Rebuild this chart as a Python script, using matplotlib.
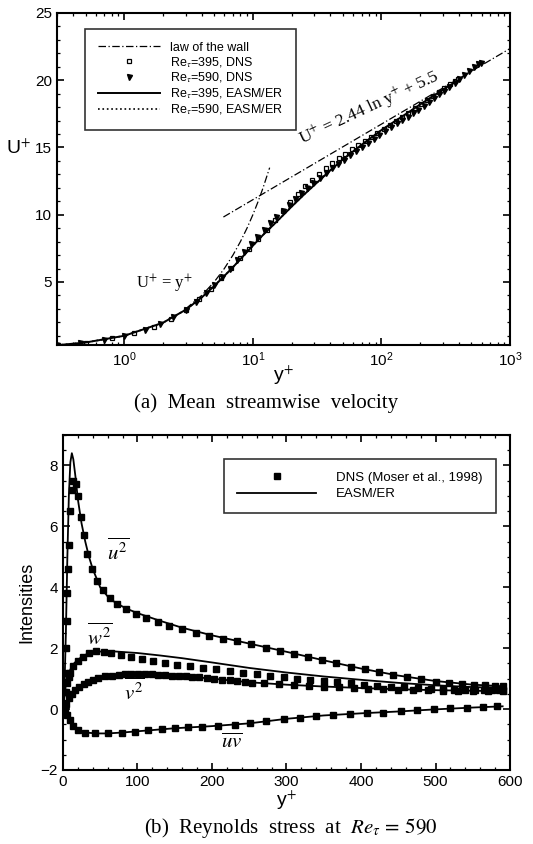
import numpy as np
import matplotlib.pyplot as plt
from matplotlib.ticker import MultipleLocator, LogLocator, NullFormatter

plt.rcParams['font.family'] = ['Liberation Sans', 'DejaVu Sans']
plt.rcParams['mathtext.fontset'] = 'stix'

# ---------------- (a) mean velocity data ----------------
yp590 = [0.3, 0.45, 0.7, 1.0, 1.45, 1.9, 2.4, 3.0, 3.6, 4.3, 5.0, 5.8, 6.6, 7.5, 8.5, 9.6,
         10.8, 12.1, 13.6, 15.2, 17, 19, 21.3, 23.8, 26.5, 29.5, 33, 37, 41, 46, 51, 57, 63,
         70, 78, 87, 96, 107, 118, 131, 145, 160, 176, 194, 213, 234, 257, 282, 309, 338,
         370, 404, 441, 480, 520, 560, 590]
up590 = [0.3, 0.45, 0.7, 1.0, 1.44, 1.88, 2.37, 2.95, 3.52, 4.15, 4.76, 5.4, 6.0, 6.6, 7.2, 7.8,
         8.35, 8.85, 9.35, 9.85, 10.3, 10.75, 11.2, 11.6, 12.0, 12.35, 12.75, 13.1, 13.45, 13.8,
         14.1, 14.45, 14.75, 15.05, 15.35, 15.65, 15.95, 16.25, 16.5, 16.8, 17.05, 17.3, 17.55,
         17.8, 18.1, 18.4, 18.65, 18.95, 19.2, 19.5, 19.8, 20.1, 20.4, 20.7, 21.0, 21.2, 21.3]
yp395 = [0.3, 0.5, 0.8, 1.2, 1.7, 2.3, 3.0, 3.8, 4.7, 5.7, 6.8, 8.0, 9.4, 11, 12.8, 14.8,
         17, 19.5, 22.3, 25.4, 28.8, 32.6, 36.8, 41.5, 46.7, 52.5, 59, 66, 74, 83, 93, 104,
         116, 130, 145, 162, 181, 202, 225, 250, 278, 308, 340, 370, 395]
up395 = [0.3, 0.5, 0.8, 1.2, 1.69, 2.27, 2.95, 3.7, 4.5, 5.3, 6.05, 6.75, 7.45, 8.2, 8.9, 9.6,
         10.3, 10.95, 11.55, 12.1, 12.6, 13.05, 13.45, 13.85, 14.2, 14.55, 14.9, 15.2, 15.5,
         15.8, 16.1, 16.4, 16.7, 17.0, 17.3, 17.6, 17.9, 18.2, 18.5, 18.8, 19.1, 19.4, 19.7,
         19.95, 20.1]
easm_y395 = [0.3, 0.5, 1, 2, 3, 4, 5, 6, 7, 8, 10, 12, 15, 20, 25, 30, 40, 50, 70, 100, 150, 200, 300, 395]
easm_u395 = [0.3, 0.5, 1, 1.97, 2.93, 3.85, 4.7, 5.45, 6.1, 6.7, 7.7, 8.5, 9.4, 10.6, 11.5, 12.2,
             13.3, 14.1, 15.2, 16.3, 17.4, 18.2, 19.3, 20.0]
easm_y590 = [0.3, 0.5, 1, 2, 3, 4, 5, 6, 7, 8, 10, 12, 15, 20, 25, 30, 40, 50, 70, 100, 150, 200, 300, 395, 500, 590]
easm_u590 = [0.3, 0.5, 1, 1.97, 2.93, 3.85, 4.7, 5.45, 6.1, 6.7, 7.7, 8.5, 9.4, 10.6, 11.5, 12.2,
             13.3, 14.1, 15.2, 16.3, 17.4, 18.2, 19.3, 20.0, 20.7, 21.1]
lin_y = [3, 4, 5, 6, 7, 8, 9, 10, 11, 12, 13.5]
lin_u = [3, 4, 5, 6, 7, 8, 9, 10, 11, 12, 13.5]
log_y = [5.9, 1000]
log_u = [9.83, 22.36]

# ---------------- (b) Reynolds stress data ----------------
uu_dns_y = [0, 1, 2, 3, 4, 5, 6, 7, 8, 10, 12, 14, 17, 20, 24, 28, 33, 39, 46, 54, 63, 73, 85, 98,
            112, 127, 143, 160, 178, 196, 215, 234, 253, 272, 291, 310, 329, 348, 367, 386, 405,
            424, 443, 462, 481, 500, 518, 535, 552, 567, 580, 590]
uu_dns = [0, 0.14, 0.55, 1.2, 2.0, 2.9, 3.8, 4.6, 5.4, 6.5, 7.2, 7.5, 7.4, 7.0, 6.3, 5.7, 5.1,
          4.6, 4.2, 3.9, 3.65, 3.45, 3.27, 3.12, 2.98, 2.86, 2.74, 2.62, 2.5, 2.4, 2.3, 2.22,
          2.13, 2.02, 1.9, 1.8, 1.72, 1.62, 1.5, 1.38, 1.3, 1.21, 1.13, 1.06, 0.98, 0.9, 0.85,
          0.82, 0.8, 0.78, 0.76, 0.75]
uu_mod_y = [0, 2, 4, 6, 8, 10, 12, 14, 17, 20, 25, 30, 35, 40, 50, 60, 70, 85, 100, 130, 160,
            200, 250, 300, 350, 400, 450, 500, 550, 590]
uu_mod = [0, 0.6, 2.5, 5.0, 7.0, 8.1, 8.4, 8.2, 7.6, 6.9, 6.1, 5.5, 5.0, 4.6, 4.0, 3.7, 3.5,
          3.3, 3.15, 2.9, 2.67, 2.42, 2.15, 1.88, 1.6, 1.33, 1.1, 0.92, 0.8, 0.75]
ww_dns_y = [0, 2, 4, 6, 8, 10, 14, 20, 27, 35, 45, 55, 65, 78, 92, 106, 121, 137, 153, 170, 188,
            206, 224, 242, 260, 278, 296, 314, 332, 350, 368, 386, 404, 422, 440, 458, 476, 494,
            510, 525, 540, 553, 565, 576, 585, 590]
ww_dns = [0, 0.2, 0.55, 0.85, 1.05, 1.2, 1.4, 1.58, 1.72, 1.84, 1.89, 1.88, 1.83, 1.76, 1.7,
          1.65, 1.58, 1.52, 1.46, 1.41, 1.36, 1.31, 1.25, 1.2, 1.15, 1.1, 1.05, 1.0, 0.96, 0.92,
          0.88, 0.84, 0.8, 0.77, 0.74, 0.71, 0.69, 0.67, 0.65, 0.64, 0.63, 0.62, 0.62, 0.61,
          0.61, 0.61]
ww_mod_y = [0, 2, 4, 6, 10, 15, 20, 30, 40, 55, 70, 100, 130, 160, 200, 250, 300, 350, 400,
            450, 500, 550, 590]
ww_mod = [0, 0.4, 0.8, 1.05, 1.3, 1.5, 1.62, 1.78, 1.86, 1.9, 1.89, 1.84, 1.76, 1.67, 1.53,
          1.35, 1.2, 1.07, 0.96, 0.86, 0.78, 0.72, 0.7]
vv_dns_y = [0, 4, 8, 12, 16, 22, 28, 34, 40, 47, 56, 66, 75, 83, 92, 101, 110, 119, 128, 137,
            146, 156, 165, 173, 183, 193, 203, 213, 224, 234, 244, 254, 270, 290, 310, 330, 350,
            370, 390, 410, 430, 450, 470, 490, 510, 530, 550, 570, 590]
vv_dns = [0, 0.15, 0.35, 0.5, 0.62, 0.74, 0.83, 0.9, 0.96, 1.02, 1.07, 1.1, 1.13, 1.14, 1.15,
          1.15, 1.15, 1.14, 1.13, 1.11, 1.1, 1.08, 1.07, 1.05, 1.04, 1.02, 0.99, 0.96, 0.94,
          0.92, 0.89, 0.86, 0.84, 0.81, 0.78, 0.76, 0.73, 0.71, 0.69, 0.67, 0.65, 0.64, 0.62,
          0.61, 0.6, 0.59, 0.58, 0.58, 0.58]
vv_mod_y = [0, 5, 10, 16, 25, 35, 50, 70, 90, 110, 130, 160, 200, 250, 300, 350, 400, 450, 500,
            550, 590]
vv_mod = [0, 0.18, 0.42, 0.6, 0.8, 0.92, 1.04, 1.11, 1.14, 1.14, 1.12, 1.08, 1.0, 0.88, 0.8,
          0.74, 0.69, 0.65, 0.62, 0.6, 0.59]
uv_dns_y = [0, 3, 6, 9, 14, 20, 30, 43, 60, 79, 97, 114, 133, 150, 168, 186, 208, 231, 251,
            273, 296, 318, 340, 362, 385, 408, 430, 453, 475, 498, 520, 542, 564, 583]
uv_dns = [0, -0.05, -0.2, -0.36, -0.55, -0.69, -0.77, -0.8, -0.8, -0.78, -0.74, -0.7, -0.67,
          -0.63, -0.6, -0.58, -0.55, -0.51, -0.47, -0.4, -0.33, -0.28, -0.23, -0.19, -0.16,
          -0.14, -0.12, -0.08, -0.04, -0.01, 0.02, 0.05, 0.07, 0.09]
uv_mod_y = [0, 3, 6, 10, 15, 22, 30, 45, 60, 80, 100, 150, 200, 250, 300, 350, 400, 450, 500,
            550, 590]
uv_mod = [0, -0.06, -0.22, -0.4, -0.58, -0.71, -0.77, -0.8, -0.8, -0.77, -0.73, -0.63, -0.56,
          -0.47, -0.32, -0.21, -0.14, -0.08, -0.01, 0.05, 0.09]

fig = plt.figure(figsize=(5.33, 8.44), dpi=100)

# ---- panel (a)
ax1 = fig.add_axes([0.107, 0.591, 0.85, 0.3936])
ax1.set_xscale('log')
ax1.plot(lin_y, lin_u, color='k', lw=0.9, dashes=[6, 2, 1, 2])
ax1.plot(log_y, log_u, color='k', lw=0.9, dashes=[6, 2, 1, 2], label='law of the wall')
ax1.plot(yp395, up395, 's', ms=3.2, mfc='white', mec='k', mew=0.9, label=r'Re$_\tau$=395, DNS')
ax1.plot(yp590, up590, 'v', ms=3.6, color='k', label=r'Re$_\tau$=590, DNS')
ax1.plot(easm_y395, easm_u395, '-', color='k', lw=1.4, label=r'Re$_\tau$=395, EASM/ER')
ax1.plot(easm_y590, easm_u590, ':', color='k', lw=1.2, label=r'Re$_\tau$=590, EASM/ER')
ax1.set_xlim(0.3, 1000)
ax1.set_ylim(0.3, 25)
ax1.set_yticks([5, 10, 15, 20, 25])
ax1.yaxis.set_minor_locator(MultipleLocator(1))
ax1.xaxis.set_major_locator(LogLocator(base=10, numticks=10))
ax1.xaxis.set_minor_locator(LogLocator(base=10, subs=np.arange(2, 10), numticks=20))
ax1.xaxis.set_minor_formatter(NullFormatter())
ax1.set_xlabel(r'y$^{+}$', fontsize=14, labelpad=-4)
ax1.set_ylabel(r'U$^{+}$', fontsize=14, rotation=0, labelpad=12)
ax1.yaxis.set_label_coords(-0.085, 0.565)
ax1.text(2.05, 4.9, r'U$^{+}$ = y$^{+}$', fontsize=12, family='Liberation Serif', ha='center', va='center')
ax1.text(80, 17.9, r'U$^{+}$ = 2.44 ln y$^{+}$ + 5.5', fontsize=12.5, family='Liberation Serif',
         ha='center', va='center', rotation=25)
leg1 = ax1.legend(loc='upper left', bbox_to_anchor=(0.049, 0.97), fontsize=9, frameon=True,
                  fancybox=False, edgecolor='k', handlelength=5.0, borderpad=1.0,
                  labelspacing=0.1, handletextpad=0.8)
leg1.get_frame().set_linewidth(1.2)

# ---- panel (b)
ax2 = fig.add_axes([0.118, 0.0877, 0.839, 0.397])
ax2.plot(uu_mod_y, uu_mod, '-', color='k', lw=1.3, label='EASM/ER')
ax2.plot(ww_mod_y, ww_mod, '-', color='k', lw=1.3)
ax2.plot(vv_mod_y, vv_mod, '-', color='k', lw=1.3)
ax2.plot(uv_mod_y, uv_mod, '-', color='k', lw=1.3)
ax2.plot(uu_dns_y, uu_dns, 's', ms=4.5, color='k', label='DNS (Moser et al., 1998)')
ax2.plot(ww_dns_y, ww_dns, 's', ms=4.5, color='k')
ax2.plot(vv_dns_y, vv_dns, 's', ms=4.5, color='k')
ax2.plot(uv_dns_y, uv_dns, 's', ms=4.5, color='k')
ax2.set_xlim(0, 600)
ax2.set_ylim(-2, 9)
ax2.set_xticks([0, 100, 200, 300, 400, 500, 600])
ax2.set_yticks([-2, 0, 2, 4, 6, 8])
ax2.xaxis.set_minor_locator(MultipleLocator(20))
ax2.yaxis.set_minor_locator(MultipleLocator(0.5))
ax2.set_xlabel(r'y$^{+}$', fontsize=14, labelpad=0)
ax2.set_ylabel('Intensities', fontsize=13, labelpad=4)
ax2.text(74, 5.2, r'$\overline{u^2}$', fontsize=15, ha='center', va='center')
ax2.text(50, 2.4, r'$\overline{w^2}$', fontsize=15, ha='center', va='center')
ax2.text(96, 0.6, r'$\overline{v^2}$', fontsize=15, ha='center', va='center')
ax2.text(227, -1.1, r'$\overline{uv}$', fontsize=15, ha='center', va='center')
h, l = ax2.get_legend_handles_labels()
leg2 = ax2.legend([h[1], h[0]], [l[1], l[0]], loc='upper left', bbox_to_anchor=(0.345, 0.949),
                  fontsize=9.5, frameon=True, fancybox=False, edgecolor='k', handlelength=6,
                  borderpad=1.0, labelspacing=0.3, handletextpad=1.5)
leg2.get_frame().set_linewidth(1.2)

for ax in (ax1, ax2):
    ax.tick_params(which='both', direction='in', top=True, right=True, labelsize=11)
    ax.tick_params(which='major', length=5, width=1.2)
    ax.tick_params(which='minor', length=2.5, width=0.9)
    for s in ax.spines.values():
        s.set_linewidth(1.5)

fig.text(0.50, 0.522, '(a)  Mean  streamwise  velocity', fontsize=15, family='Liberation Serif',
         ha='center', va='center')
fig.text(0.545, 0.019, r'(b)  Reynolds  stress  at  $Re_{\tau}\mathrm{\,=\,590}$', fontsize=15,
         family='Liberation Serif', ha='center', va='center')

fig.savefig('out.png', dpi=100)
